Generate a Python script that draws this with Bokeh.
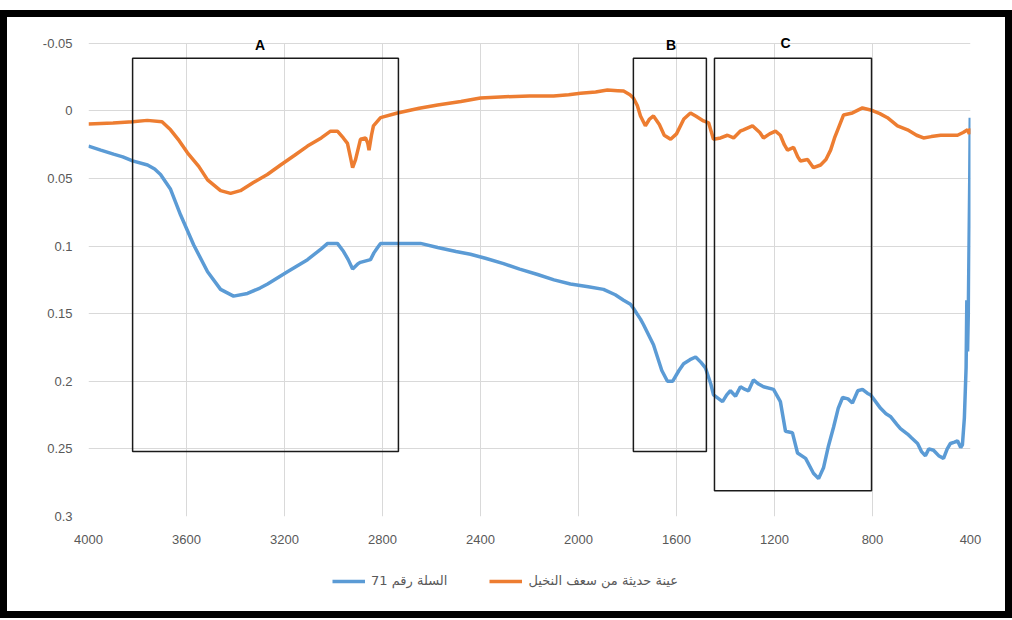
from bokeh.plotting import figure
from bokeh.layouts import column
from bokeh.models import Range1d, FixedTicker, NumeralTickFormatter, Legend, LegendItem, ColumnDataSource
from bokeh.core.properties import value
from bokeh.embed import file_html
from bokeh.resources import INLINE

# ---------------- data ----------------
orange_wn = [4000, 3900, 3820, 3760, 3700, 3665, 3630, 3596, 3550, 3514, 3461, 3420, 3380, 3327, 3270,
             3216, 3160, 3106, 3050, 3012, 2984, 2960, 2943, 2930, 2922, 2910, 2890, 2869, 2860, 2855,
             2845, 2837, 2808, 2739, 2650, 2575, 2480, 2400, 2300, 2200, 2102, 2040, 1992, 1930, 1882,
             1840, 1816, 1790, 1776, 1760, 1747, 1727, 1710, 1694, 1670, 1650, 1624, 1600, 1570, 1543,
             1520, 1490, 1469, 1449, 1420, 1392, 1367, 1340, 1327, 1290, 1260, 1245, 1220, 1196, 1176,
             1160, 1147, 1122, 1105, 1094, 1065, 1041, 1012, 990, 971, 955, 942, 918, 882, 841,
             808, 770, 739, 698, 657, 620, 592, 560, 522, 490, 453, 430, 412, 405, 400]
orange_val = [0.0096, 0.009, 0.008, 0.007, 0.008, 0.014, 0.022, 0.031, 0.041, 0.051, 0.059, 0.061, 0.059, 0.053, 0.047,
              0.040, 0.033, 0.026, 0.020, 0.015, 0.015, 0.020, 0.024, 0.035, 0.042, 0.036, 0.021, 0.020, 0.024, 0.029,
              0.018, 0.011, 0.005, 0.0015, -0.002, -0.0044, -0.007, -0.0096, -0.0105, -0.011, -0.011, -0.012, -0.013, -0.014, -0.0154,
              -0.015, -0.0147, -0.012, -0.0096, -0.004, 0.0037, 0.011, 0.006, 0.0037, 0.010, 0.018, 0.021, 0.017, 0.006, 0.0015,
              0.004, 0.0074, 0.0088, 0.021, 0.020, 0.018, 0.020, 0.015, 0.014, 0.011, 0.016, 0.020, 0.017, 0.015, 0.018,
              0.025, 0.029, 0.027, 0.034, 0.037, 0.036, 0.042, 0.040, 0.036, 0.029, 0.020, 0.014, 0.003, 0.0015, -0.0022,
              -0.0007, 0.002, 0.005, 0.011, 0.014, 0.018, 0.020, 0.019, 0.018, 0.018, 0.018, 0.016, 0.014, 0.017, 0.013]

blue_wn = [4000, 3950, 3898, 3860, 3820, 3759, 3730, 3706, 3665, 3624, 3571, 3514, 3461, 3408, 3351,
           3300, 3269, 3188, 3106, 3050, 3024, 2984, 2959, 2940, 2922, 2900, 2890, 2849, 2835, 2820,
           2808, 2739, 2645, 2575, 2500, 2441, 2380, 2306, 2240, 2167, 2100, 2033, 1960, 1898, 1850,
           1816, 1788, 1776, 1747, 1735, 1694, 1660, 1637, 1616, 1590, 1571, 1545, 1522, 1500, 1482,
           1460, 1449, 1412, 1395, 1380, 1359, 1339, 1320, 1306, 1286, 1265, 1245, 1204, 1176, 1155,
           1127, 1106, 1073, 1041, 1020, 1000, 980, 959, 940, 922, 900, 882, 860, 841, 820,
           808, 767, 745, 727, 700, 686, 657, 640, 616, 600, 584, 570, 551, 530, 510,
           495, 482, 465, 453, 440, 433, 425, 418, 415, 412, 409, 406, 403, 401]
blue_val = [0.026, 0.029, 0.032, 0.034, 0.037, 0.040, 0.043, 0.047, 0.058, 0.077, 0.099, 0.119, 0.132, 0.137, 0.135,
            0.131, 0.128, 0.119, 0.110, 0.102, 0.098, 0.098, 0.104, 0.110, 0.117, 0.113, 0.112, 0.110, 0.105, 0.101,
            0.098, 0.098, 0.098, 0.101, 0.104, 0.106, 0.109, 0.113, 0.117, 0.121, 0.125, 0.128, 0.130, 0.132, 0.136,
            0.140, 0.143, 0.146, 0.154, 0.158, 0.173, 0.192, 0.200, 0.200, 0.192, 0.187, 0.184, 0.182, 0.186, 0.190,
            0.202, 0.210, 0.215, 0.210, 0.207, 0.211, 0.204, 0.206, 0.207, 0.199, 0.202, 0.204, 0.206, 0.215, 0.237,
            0.238, 0.253, 0.257, 0.268, 0.272, 0.264, 0.248, 0.234, 0.220, 0.212, 0.213, 0.216, 0.207, 0.206, 0.209,
            0.210, 0.220, 0.224, 0.226, 0.232, 0.235, 0.239, 0.242, 0.246, 0.252, 0.255, 0.250, 0.251, 0.255, 0.257,
            0.250, 0.246, 0.245, 0.244, 0.249, 0.247, 0.227, 0.190, 0.140, 0.178, 0.150, 0.100, 0.050, 0.005]

blue_name = "السلة رقم 71"
orange_name = "عينة حديثة من سعف النخيل"

box_labels = ["A", "B", "C"]
box_left = [3820, 1776, 1445]
box_right = [2735, 1478, 804]
box_top = [-0.039, -0.039, -0.039]
box_bottom = [0.252, 0.252, 0.281]
label_x = [3300, 1622, 1155]
label_y = [-0.049, -0.049, -0.050]

x_ticks = [4000, 3600, 3200, 2800, 2400, 2000, 1600, 1200, 800, 400]
y_ticks = [-0.05, 0, 0.05, 0.1, 0.15, 0.2, 0.25, 0.3]

BLUE = "#5B9BD5"
ORANGE = "#ED7D31"
TICK_FONT = "Liberation Sans"
INNER_W = 998

# ---------------- main chart ----------------
p = figure(width=INNER_W, height=538, output_backend="svg", toolbar_location=None,
           x_range=Range1d(4000, 400), y_range=Range1d(0.3, -0.058),
           min_border_left=81, min_border_right=35, min_border_top=15, min_border_bottom=39)
p.outline_line_color = None
p.background_fill_color = "white"
p.border_fill_color = "white"

for ax in (p.xaxis[0], p.yaxis[0]):
    ax.axis_line_color = None
    ax.major_tick_line_color = None
    ax.minor_tick_line_color = None
    ax.major_label_text_font = TICK_FONT
    ax.major_label_text_font_size = "13px"
    ax.major_label_text_color = "#595959"
p.xaxis.ticker = FixedTicker(ticks=x_ticks)
p.yaxis.ticker = FixedTicker(ticks=y_ticks)
p.yaxis.formatter = NumeralTickFormatter(format="0.[00]")
p.xaxis.major_tick_out = 0
p.yaxis.major_tick_out = 0
p.xaxis.major_label_standoff = 18
p.yaxis.major_label_standoff = 16

p.xgrid.ticker = FixedTicker(ticks=x_ticks)
p.ygrid.ticker = FixedTicker(ticks=y_ticks)
p.grid.grid_line_color = "#d9d9d9"
p.grid.grid_line_width = 1
if "cross_bounds" in p.xgrid[0].properties():
    p.xgrid[0].cross_bounds = (0.3, -0.05)

r_blue = p.line(blue_wn, blue_val, line_color=BLUE, line_width=3.5)
r_orange = p.line(orange_wn, orange_val, line_color=ORANGE, line_width=3.5)

p.quad(left=box_left, right=box_right, top=box_top, bottom=box_bottom,
       fill_alpha=0, line_color="#1a1a1a", line_width=1.5)

lab_src = ColumnDataSource(dict(x=label_x, y=label_y, t=box_labels))
p.text(x="x", y="y", text="t", source=lab_src, text_align="center", text_baseline="middle",
       text_font=value("Liberation Sans"), text_font_style="bold", text_font_size="14px",
       text_color="black")

# ---------------- legend strip ----------------
lg = figure(width=INNER_W, height=56, output_backend="svg", toolbar_location=None,
            x_range=Range1d(0, 1), y_range=Range1d(0, 1),
            min_border_left=0, min_border_right=0, min_border_top=0, min_border_bottom=0)
lg.axis.visible = False
lg.grid.visible = False
lg.outline_line_color = None
lg.background_fill_color = "white"
lg.border_fill_color = "white"
# legend-only renderers: same styling, their points sit outside the visible range
lb = lg.line(x=[-5, -4], y=[-5, -5], line_color=BLUE, line_width=3.5)
lo = lg.line(x=[-5, -4], y=[-5, -5], line_color=ORANGE, line_width=3.5)
legend = Legend(items=[LegendItem(label=blue_name, renderers=[lb]),
                       LegendItem(label=orange_name, renderers=[lo])],
                orientation="horizontal", location=(244, 23),
                label_text_font="DejaVu Sans", label_text_font_size="13px",
                label_text_color="#595959", glyph_width=33, glyph_height=14,
                label_standoff=6, spacing=42, border_line_color=None,
                background_fill_alpha=0, margin=0, padding=4)
lg.add_layout(legend)

page = column(p, lg, spacing=0,
              styles={"border": "7px solid black", "background-color": "white", "margin-top": "10px"})

open("out.html", "w").write(file_html(page, INLINE))
